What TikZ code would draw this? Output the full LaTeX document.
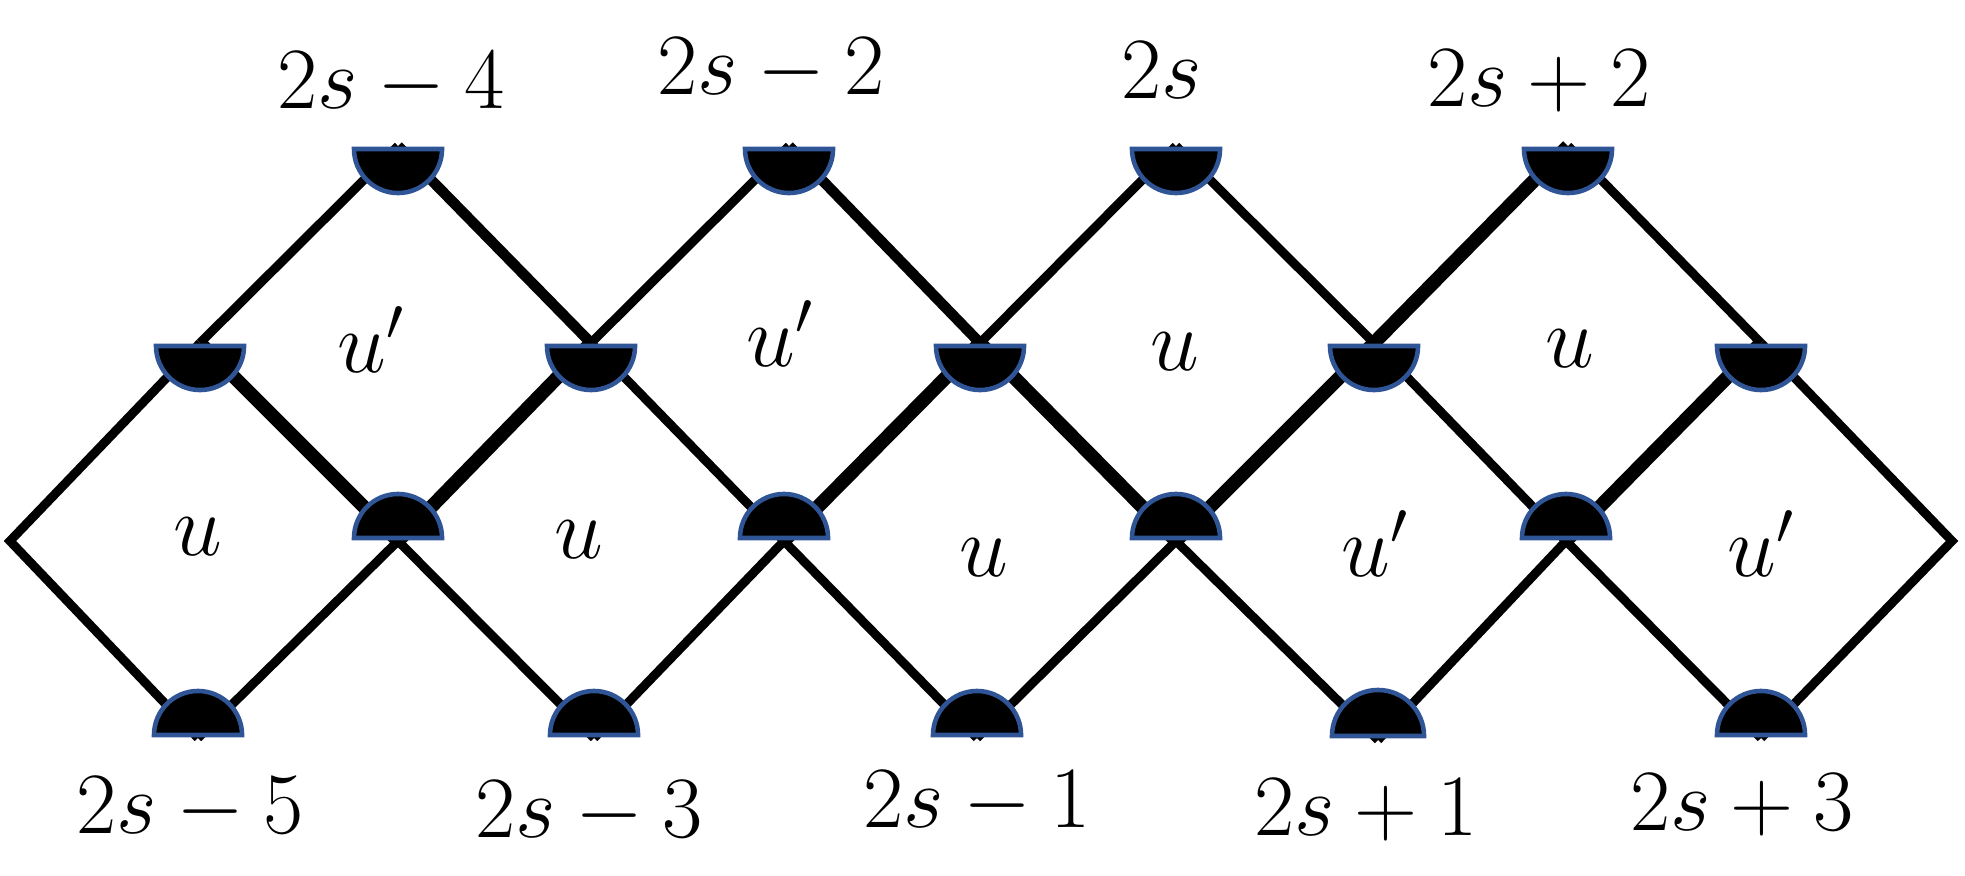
\documentclass[tikz,border=0pt]{standalone}
\usetikzlibrary{positioning}
\definecolor{rimblue}{RGB}{47,85,151}
\tikzset{
  edgen/.style={line width=2.56pt, line cap=butt},
  edgem/.style={line width=3.0pt, line cap=butt},
  edget/.style={line width=3.9pt, line cap=butt},
  semi/.style={fill=black, draw=rimblue, line width=1.3pt, line join=miter},
  lab/.style={font=\fontsize{24}{28}\selectfont, anchor=base, inner sep=0pt},
  face/.style={font=\fontsize{26}{30}\selectfont, anchor=base, inner sep=0pt},
  bowl/.pic={\filldraw[semi] (-44,3) arc[start angle=180, end angle=360, radius=0.44cm] -- cycle;},
  dome/.pic={\filldraw[semi] (-44,-3) arc[start angle=180, end angle=0, radius=0.44cm] -- cycle;},
  bigdome/.pic={\filldraw[semi] (-46,-4) arc[start angle=180, end angle=0, radius=0.46cm] -- cycle;}
}
\begin{document}
\begin{tikzpicture}[x=0.01cm, y=-0.01cm]
\useasboundingbox (0,0) rectangle (1965,875);
% lattice points
\coordinate (l) at (10,541);
\coordinate (r) at (1952,541);
\coordinate (t1) at (398,146);
\coordinate (t2) at (789,146);
\coordinate (t3) at (1176,146);
\coordinate (t4) at (1568,146);
\coordinate (h1) at (200,343);
\coordinate (h2) at (591,343);
\coordinate (h3) at (980,343);
\coordinate (h4) at (1374,343);
\coordinate (h5) at (1761,343);
\coordinate (m1) at (398,541);
\coordinate (m2) at (784,541);
\coordinate (m3) at (1176,541);
\coordinate (m4) at (1566,541);
\coordinate (b1) at (198,738);
\coordinate (b2) at (594,738);
\coordinate (b3) at (977,738);
\coordinate (b4) at (1378,740);
\coordinate (b5) at (1761,738);
% edges
\draw[edgen, line join=miter] (h1) -- (l) -- (b1);
\draw[edgen, line join=miter] (h5) -- (r) -- (b5);
\draw[edgen] (h1) -- (t1);
\draw[edget] (h1) -- (m1);
\draw[edgen] (b1) -- (m1);
\draw[edgem] (t1) -- (h2);
\draw[edget] (m1) -- (h2);
\draw[edgen] (m1) -- (b2);
\draw[edgen] (h2) -- (t2);
\draw[edgen] (h2) -- (m2);
\draw[edgen] (b2) -- (m2);
\draw[edgem] (t2) -- (h3);
\draw[edget] (m2) -- (h3);
\draw[edgen] (m2) -- (b3);
\draw[edgen] (h3) -- (t3);
\draw[edget] (h3) -- (m3);
\draw[edgen] (b3) -- (m3);
\draw[edgen] (t3) -- (h4);
\draw[edget] (m3) -- (h4);
\draw[edgen] (m3) -- (b4);
\draw[edget] (h4) -- (t4);
\draw[edgen] (h4) -- (m4);
\draw[edgen] (b4) -- (m4);
\draw[edgen] (t4) -- (h5);
\draw[edget] (m4) -- (h5);
\draw[edgen] (m4) -- (b5);
% detectors
\foreach \p in {t1,t2,t3,t4,h1,h2,h3,h4,h5} \pic at (\p) {bowl};
\foreach \p in {m1,m2,m3,m4,b1,b2,b3,b5} \pic at (\p) {dome};
\pic at (b4) {bigdome};
% top labels
\node[lab] (lt1) at (391,108) {$2s-4$};
\node[lab] (lt2) at (771,94) {$2s-2$};
\node[lab] (lt3) at (1162,98) {$2s$};
\node[lab] (lt4) at (1539,106) {$2s+2$};
% bottom labels
\node[lab] (lb1) at (190,833) {$2s-5$};
\node[lab] (lb2) at (589,837) {$2s-3$};
\node[lab] (lb3) at (977,827) {$2s-1$};
\node[lab] (lb4) at (1366,835) {$2s+1$};
\node[lab] (lb5) at (1742,830) {$2s+3$};
% face labels
\node[face] (f1) at (198,555) {$u$};
\node[face] (f2) at (362,372) {$u\rlap{$'$}$};
\node[face] (f3) at (579,558) {$u$};
\node[face] (f4) at (771,366) {$u\rlap{$'$}$};
\node[face] (f5) at (984,576) {$u$};
\node[face] (f6) at (1175,370) {$u$};
\node[face] (f7) at (1366,576) {$u\rlap{$'$}$};
\node[face] (f8) at (1570,367) {$u$};
\node[face] (f9) at (1752,576) {$u\rlap{$'$}$};
\end{tikzpicture}
\end{document}
